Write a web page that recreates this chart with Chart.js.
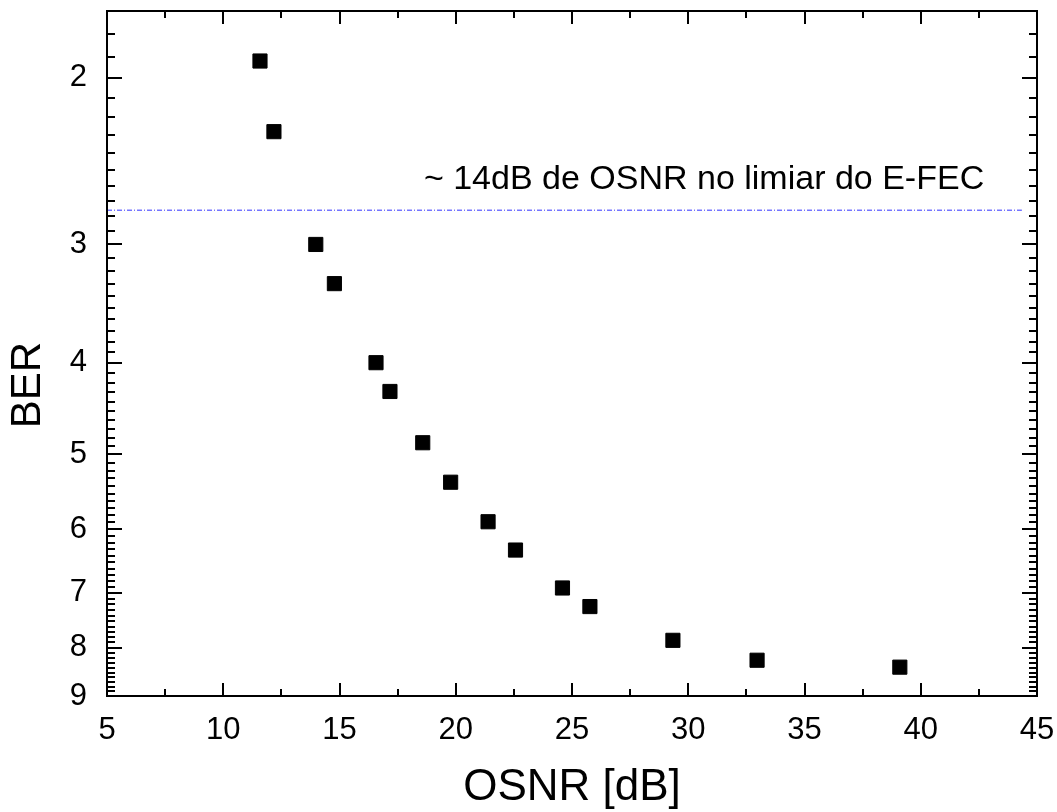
<!DOCTYPE html>
<html>
<head>
<meta charset="utf-8">
<script src="https://cdn.jsdelivr.net/npm/chart.js@4.4.1/dist/chart.umd.min.js"></script>
<style>
  html, body { margin: 0; padding: 0; background: #fff; }
  #wrap { width: 1057px; height: 812px; }
</style>
</head>
<body>
<div id="wrap"><canvas id="chart" width="1057" height="812"></canvas></div>
<script>
// OSNR [dB] vs BER
const osnr = [11.58, 12.18, 13.98, 14.78, 16.57, 17.17, 18.58, 19.78, 21.39, 22.57, 24.59, 25.77, 29.34, 32.96, 39.1];
const ber = [1.92, 2.28, 3.0, 3.3, 4.0, 4.29, 4.86, 5.35, 5.89, 6.31, 6.92, 7.24, 7.86, 8.25, 8.39];

// linha do limiar E-FEC
const limiarX = [5, 44.35];
const limiarY = [2.76, 2.76];
const anotacao = "~ 14dB de OSNR no limiar do E-FEC";
const anotacaoX = 18.63;
const anotacaoY = 2.62;

const xTicks = [5, 10, 15, 20, 25, 30, 35, 40, 45];
const yTicks = [2, 3, 4, 5, 6, 7, 8, 9];

const FONT = "'Liberation Sans', Arial, sans-serif";

// minor ticks
const xMinor = xTicks.slice(0, -1).map((v) => v + 2.5);
const yMinor = [];
for (let i = 18; i < 90; i++) {
  if (i % 10 !== 0) yMinor.push(i / 10);
}

const framePlugin = {
  id: "frame",
  afterDraw(chart) {
    const ctx = chart.ctx;
    const { left, right, top, bottom } = chart.chartArea;
    const xs = chart.scales.x;
    const ys = chart.scales.y;
    ctx.save();
    ctx.strokeStyle = "#000";
    ctx.lineWidth = 2;
    ctx.lineCap = "butt";
    ctx.strokeRect(left, top, right - left, bottom - top);

    ctx.beginPath();
    // ticks para dentro, nos quatro lados
    const xt = (vals, len) => {
      vals.forEach((v) => {
        const px = Math.round(xs.getPixelForValue(v));
        ctx.moveTo(px, bottom);
        ctx.lineTo(px, bottom - len);
        ctx.moveTo(px, top);
        ctx.lineTo(px, top + len);
      });
    };
    const yt = (vals, len) => {
      vals.forEach((v) => {
        const py = Math.round(ys.getPixelForValue(v));
        ctx.moveTo(left, py);
        ctx.lineTo(left + len, py);
        ctx.moveTo(right, py);
        ctx.lineTo(right - len, py);
      });
    };
    xt(xTicks, 13);
    xt(xMinor, 7);
    yt(yTicks, 15);
    yt(yMinor, 8);
    ctx.stroke();

    ctx.fillStyle = "#000";
    // texto da anotação
    ctx.font = "34px " + FONT;
    ctx.textAlign = "left";
    ctx.textBaseline = "alphabetic";
    ctx.fillText(anotacao, xs.getPixelForValue(anotacaoX), ys.getPixelForValue(anotacaoY));

    // título do eixo y
    ctx.translate(28, 385);
    ctx.rotate(-Math.PI / 2);
    ctx.font = "42px " + FONT;
    ctx.textAlign = "center";
    ctx.textBaseline = "middle";
    ctx.fillText("BER", 0, 0);
    ctx.restore();
  },
};

new Chart(document.getElementById("chart"), {
  type: "scatter",
  data: {
    datasets: [
      {
        type: "line",
        label: "limiar",
        data: limiarX.map((x, i) => ({ x, y: limiarY[i] })),
        borderColor: "rgb(50,50,255)",
        borderWidth: 1,
        borderDash: [5, 2, 1, 2],
        pointRadius: 0,
        fill: false,
      },
      {
        label: "BER",
        data: osnr.map((x, i) => ({ x, y: ber[i] })),
        pointStyle: "rect",
        pointRadius: 10,
        pointBorderWidth: 1,
        pointBackgroundColor: "#000",
        pointBorderColor: "#000",
      },
    ],
  },
  options: {
    responsive: false,
    animation: false,
    layout: { padding: { top: 10, right: 20, left: 0, bottom: 0 } },
    plugins: {
      legend: { display: false },
      tooltip: { enabled: false },
    },
    scales: {
      x: {
        type: "linear",
        min: 5,
        max: 45,
        grid: { display: false },
        border: { display: false },
        ticks: {
          stepSize: 5,
          padding: 8,
          color: "#000",
          font: { family: FONT, size: 31 },
        },
        title: {
          display: true,
          text: "OSNR [dB]",
          color: "#000",
          font: { family: FONT, size: 44, lineHeight: 1 },
          padding: { top: 0, bottom: 2 },
        },
        afterFit: (s) => {
          s.height = 116;
          s.paddingLeft = 0;
          s.paddingRight = 0;
        },
      },
      y: {
        type: "logarithmic",
        reverse: true,
        min: 1.7,
        max: 9,
        grid: { display: false },
        border: { display: false },
        afterBuildTicks: (s) => {
          s.ticks = yTicks.map((v) => ({ value: v }));
        },
        ticks: {
          autoSkip: false,
          padding: 12,
          color: "#000",
          font: { family: FONT, size: 31 },
          callback: (v) => String(v),
        },
        afterFit: (s) => {
          s.width = 107;
          s.paddingTop = 0;
          s.paddingBottom = 0;
        },
      },
    },
  },
  plugins: [framePlugin],
});
</script>
</body>
</html>
